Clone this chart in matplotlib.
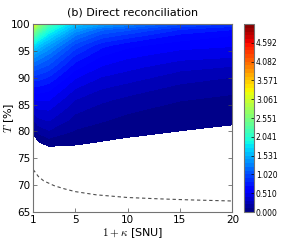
import numpy as np
import matplotlib
matplotlib.use("Agg")
import matplotlib.pyplot as plt

plt.rcParams['font.family'] = ['DejaVu Sans']
plt.rcParams['mathtext.fontset'] = 'cm'

# grid: transmittance T [%] (rows) x 1+kappa [SNU] (columns)
kappa = [1, 1.5, 2.5, 5, 7.5, 10, 15, 20]
T = [76, 78, 80, 82, 84, 86, 88, 90, 92, 94, 96, 98, 99, 100]
key_rate = [
    [-0.28, -0.15, -0.08, -0.05, -0.05, -0.06, -0.06, -0.07],
    [-0.12, -0.006, 0.05, 0.018, -0.005, -0.018, -0.03, -0.04],
    [0.03, 0.13, 0.19, 0.09, 0.05, 0.022, -0.002, -0.016],
    [0.18, 0.27, 0.31, 0.16, 0.11, 0.07, 0.03, 0.01],
    [0.34, 0.40, 0.41, 0.23, 0.16, 0.12, 0.06, 0.04],
    [0.50, 0.53, 0.52, 0.31, 0.23, 0.18, 0.11, 0.08],
    [0.68, 0.68, 0.64, 0.41, 0.31, 0.26, 0.17, 0.13],
    [0.88, 0.86, 0.80, 0.52, 0.40, 0.35, 0.25, 0.20],
    [1.10, 1.06, 0.98, 0.65, 0.50, 0.44, 0.34, 0.30],
    [1.38, 1.30, 1.17, 0.80, 0.61, 0.53, 0.45, 0.42],
    [1.78, 1.62, 1.42, 0.98, 0.75, 0.64, 0.55, 0.52],
    [2.35, 2.10, 1.78, 1.25, 1.00, 0.90, 0.70, 0.62],
    [2.75, 2.40, 2.00, 1.42, 1.15, 1.05, 0.82, 0.72],
    [3.40, 2.75, 2.25, 1.62, 1.45, 1.30, 1.05, 0.90],
]
rate_max = 5.102

# dashed boundary curve
kappa_dash = [1, 1.5, 2, 3, 4, 5, 7, 10, 13, 16, 20]
T_dash = [72.9, 71.6, 70.8, 69.9, 69.3, 68.8, 68.2, 67.7, 67.45, 67.25, 67.05]

fig = plt.figure(figsize=(2.99, 2.50), dpi=100)
ax = fig.add_axes([0.111, 0.152, 0.666, 0.752])
cax = fig.add_axes([0.817, 0.152, 0.032, 0.752])

levels = np.linspace(0, rate_max, 51)
cs = ax.contourf(kappa, T, np.array(key_rate), levels=levels, cmap='jet')
ax.plot(kappa_dash, T_dash, ls='--', color='0.3', lw=0.8, dashes=(3, 2.5))

ax.set_xlim(1, 20)
ax.set_ylim(65, 100)
ax.set_xticks([1, 5, 10, 15, 20])
ax.set_yticks(range(65, 101, 5))
ax.tick_params(direction='in', top=True, right=True, labelsize=7.5,
               length=3, width=0.5, color='0.3', pad=2)
for s in ax.spines.values():
    s.set_color('0.45')
    s.set_linewidth(0.8)
ax.set_xlabel(r'$1+\kappa$ [SNU]', fontsize=8, labelpad=1)
ax.set_ylabel(r'$T$ [%]', fontsize=8)
ax.yaxis.set_label_coords(-0.085, 0.5)
ax.set_title('(b) Direct reconciliation', fontsize=8, pad=6)

cb = fig.colorbar(cs, cax=cax)
cticks = np.linspace(0, rate_max, 11)[:-1]
cb.set_ticks(cticks)
cb.set_ticklabels(['%.3f' % v for v in cticks])
cb.ax.tick_params(direction='in', labelsize=5.5, length=2, width=0.5, pad=1.5)
cb.outline.set_color('0.45')
cb.outline.set_linewidth(0.8)

fig.savefig('out.png', dpi=100)
